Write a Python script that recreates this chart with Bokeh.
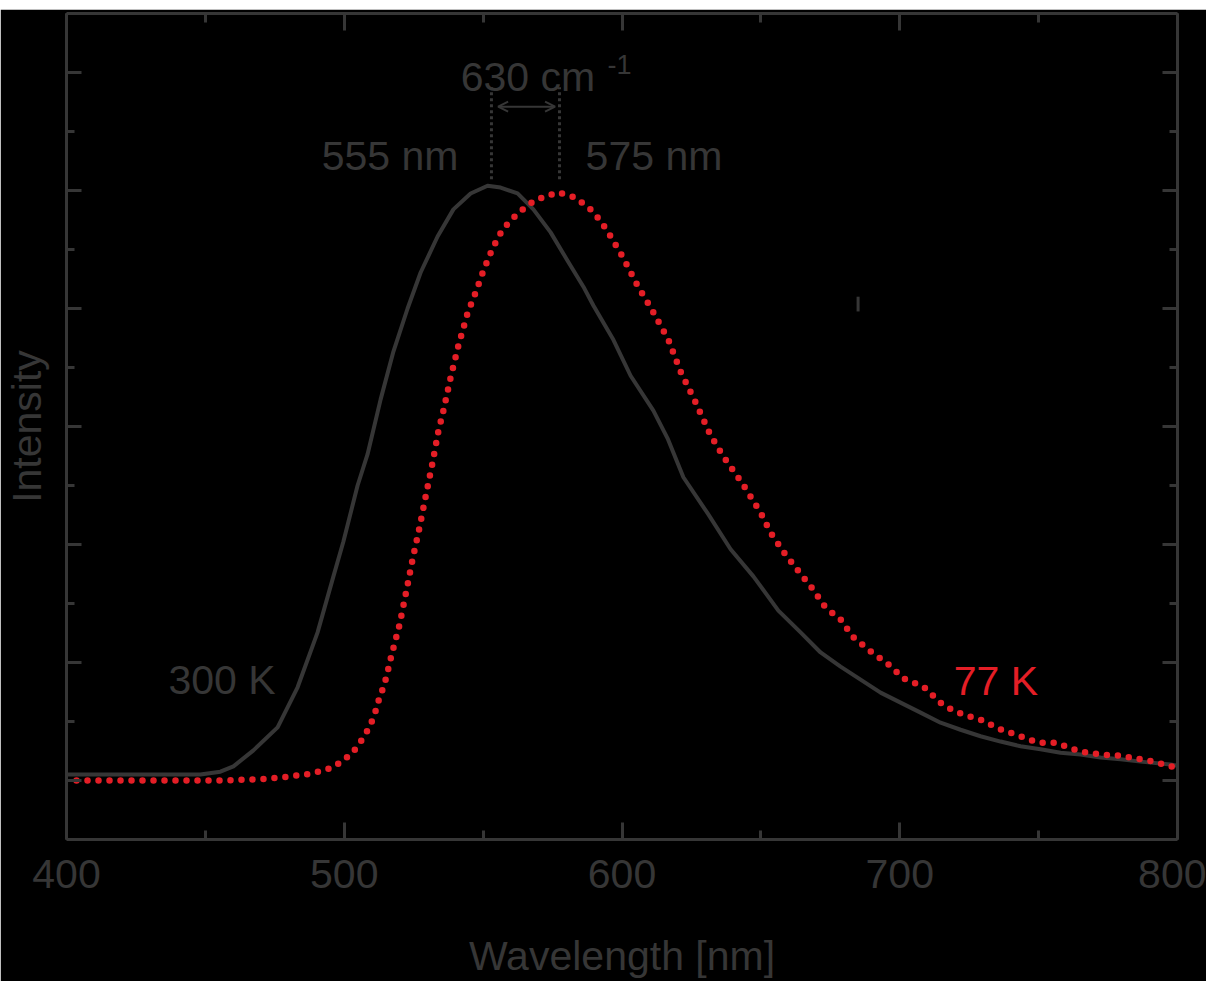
from bokeh.plotting import figure
from bokeh.models import (LinearAxis, FixedTicker, CustomJSTickFormatter, Label,
                          Arrow, OpenHead)
from bokeh.embed import file_html
from bokeh.resources import INLINE

# ---------------- data ----------------
wl_300K = [400.0, 448.2, 455.4, 460.1, 467.3, 476.0, 483.2, 490.4, 496.1, 499.7,
           504.8, 508.4, 513.1, 517.7, 522.8, 527.5, 533.6, 539.3, 545.5, 551.6,
           556.3, 562.4, 568.1, 574.3, 580.4, 586.1, 589.7, 596.9, 603.1, 611.3,
           616.4, 622.1, 630.8, 639.1, 647.3, 656.3, 664.3, 671.5, 678.7, 685.9,
           693.1, 700.3, 707.5, 714.7, 721.9, 729.1, 736.3, 743.5, 750.7, 757.9,
           765.1, 772.3, 779.5, 786.7, 797.5, 800.0]
int_300K = [0.010, 0.010, 0.015, 0.024, 0.051, 0.090, 0.158, 0.251, 0.346, 0.405,
            0.500, 0.553, 0.646, 0.727, 0.800, 0.861, 0.922, 0.968, 0.995, 1.008,
            1.005, 0.995, 0.968, 0.929, 0.881, 0.837, 0.805, 0.747, 0.686, 0.627,
            0.580, 0.514, 0.453, 0.392, 0.346, 0.288, 0.251, 0.217, 0.193, 0.171,
            0.149, 0.132, 0.115, 0.098, 0.086, 0.075, 0.066, 0.058, 0.053, 0.047,
            0.044, 0.039, 0.036, 0.032, 0.027, 0.025]

wl_77K = [403.6, 430.2, 457.2, 472.7, 480.6, 488.6, 492.2, 495.8, 499.7, 503.3,
          506.2, 508.4, 510.2, 511.6, 512.7, 514.1, 515.2, 517.0, 519.9, 522.4,
          524.6, 527.1, 529.3, 531.8, 533.9, 535.7, 538.3, 541.1, 544.4, 547.3,
          550.1, 553.4, 557.0, 562.4, 568.5, 576.8, 583.3, 589.7, 594.4, 600.2,
          605.9, 610.3, 616.7, 621.1, 626.5, 631.9, 636.5, 643.4, 649.9, 653.5,
          658.1, 662.5, 668.6, 673.3, 678.7, 683.0, 689.5, 695.9, 701.4, 708.6,
          715.8, 722.6, 729.8, 735.6, 742.8, 750.0, 756.1, 765.1, 772.3, 779.5,
          791.4, 799.3]
int_77K = [0.000, 0.000, 0.000, 0.003, 0.007, 0.012, 0.017, 0.022, 0.034, 0.049,
           0.068, 0.085, 0.103, 0.122, 0.141, 0.158, 0.176, 0.212, 0.264, 0.322,
           0.375, 0.429, 0.481, 0.539, 0.592, 0.627, 0.683, 0.737, 0.792, 0.827,
           0.864, 0.902, 0.934, 0.961, 0.983, 0.997, 0.988, 0.964, 0.934, 0.888,
           0.836, 0.802, 0.747, 0.693, 0.641, 0.585, 0.549, 0.503, 0.454, 0.420,
           0.388, 0.361, 0.325, 0.293, 0.273, 0.244, 0.219, 0.197, 0.173, 0.159,
           0.127, 0.112, 0.102, 0.088, 0.076, 0.064, 0.064, 0.049, 0.044, 0.042,
           0.032, 0.022]

peak_positions = [553.0, 577.5]   # dotted marker lines
peak_labels = ["555 nm", "575 nm"]
shift_label = "630 cm"
shift_sup = "-1"
series_labels = ["300 K", "77 K"]

x_major = [400, 500, 600, 700, 800]
x_minor = [450, 550, 650, 750]
y_major = [0.0, 0.2, 0.4, 0.6, 0.8, 1.0, 1.2]
y_minor = [0.1, 0.3, 0.5, 0.7, 0.9, 1.1]

# ---------------- style ----------------
GRAY = "#363636"
RED = "#e41e26"
FONT = "Liberation Sans"
FS = "41px"

p = figure(width=1206, height=972, x_range=(400, 800), y_range=(-0.1, 1.3),
           output_backend="svg", toolbar_location=None,
           background_fill_color="black", border_fill_color="black",
           min_border_left=66, min_border_right=29, min_border_top=4,
           min_border_bottom=10)
p.margin = (9, 0, 0, 0)
p.outline_line_color = None
p.grid.visible = False

bottom = p.below[0]
left = p.left[0]

empty = CustomJSTickFormatter(code="return ''")

top = LinearAxis()
right = LinearAxis()
p.add_layout(top, "above")
p.add_layout(right, "right")

for ax in [bottom, top]:
    ax.ticker = FixedTicker(ticks=x_major, minor_ticks=x_minor)
    ax.major_tick_in = 17
    ax.minor_tick_in = 9
for ax in [left, right]:
    ax.ticker = FixedTicker(ticks=y_major, minor_ticks=y_minor)
    ax.major_tick_in = 15
    ax.minor_tick_in = 8

for ax in [bottom, top, left, right]:
    ax.major_tick_out = 0
    ax.minor_tick_out = 0
    ax.axis_line_color = GRAY
    ax.axis_line_width = 3
    ax.major_tick_line_color = GRAY
    ax.major_tick_line_width = 3
    ax.minor_tick_line_color = GRAY
    ax.minor_tick_line_width = 3
    ax.major_label_text_color = GRAY
    ax.major_label_text_font = FONT
    ax.major_label_text_font_size = FS
    ax.axis_label_text_color = GRAY
    ax.axis_label_text_font = FONT
    ax.axis_label_text_font_size = FS
    ax.axis_label_text_font_style = "normal"

for ax in [top, left, right]:
    ax.formatter = empty
    ax.major_label_standoff = 0
    ax.major_label_text_font_size = "1px"

bottom.major_label_standoff = 20
bottom.axis_label = "Wavelength [nm]"
bottom.axis_label_standoff = 42
left.axis_label = "Intensity"
left.axis_label_standoff = 17

# ---------------- curves ----------------
p.line(wl_300K, int_300K, line_color=GRAY, line_width=4, line_join="round")
p.line(wl_77K, int_77K, line_color=RED, line_width=6.5, line_dash="0 11",
       line_cap="round")

# peak marker lines
p.segment(x0=peak_positions, y0=[1.019, 1.019], x1=peak_positions, y1=[1.175, 1.175],
          line_color=GRAY, line_width=3, line_dash="3 3")
# stray mark
p.segment(x0=[685.0], y0=[0.795], x1=[685.0], y1=[0.820], line_color=GRAY, line_width=3)

p.add_layout(Arrow(x_start=555.4, y_start=1.142, x_end=575.9, y_end=1.142,
                   line_color=GRAY, line_width=2,
                   start=OpenHead(size=10, line_color=GRAY, line_width=2),
                   end=OpenHead(size=10, line_color=GRAY, line_width=2)))

def lab(x, y, t, color=GRAY, align="left", size=FS):
    p.add_layout(Label(x=x, y=y, text=t, text_color=color, text_align=align,
                       text_baseline="alphabetic", text_font=FONT,
                       text_font_size=size))

lab(541.1, 1.058, peak_labels[0], align="right")
lab(586.9, 1.058, peak_labels[1])
lab(541.9, 1.192, shift_label)
lab(594.8, 1.214, shift_sup, size="27px")
lab(436.7, 0.171, series_labels[0])
lab(719.4, 0.168, series_labels[1], color=RED)

open("out.html", "w").write(file_html(p, INLINE))
